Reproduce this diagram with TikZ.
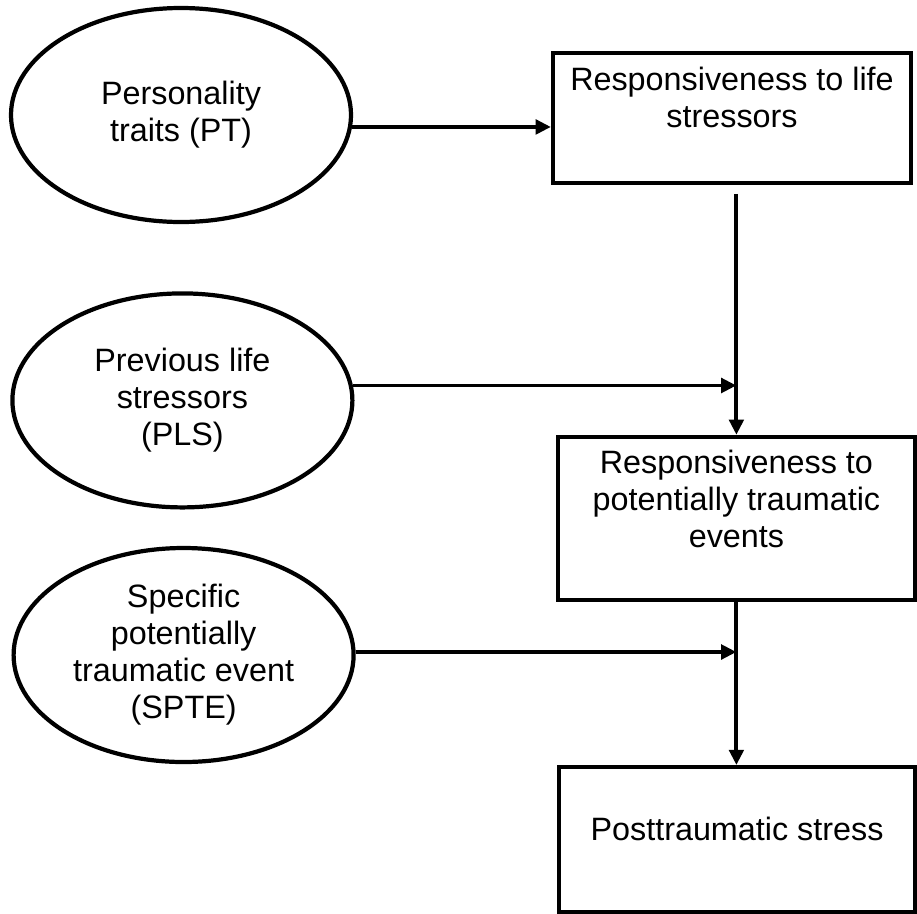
\documentclass[tikz,border=0pt]{standalone}
\usepackage{fontspec}
\setsansfont{Liberation Sans}
\usepackage{tikz}
\usetikzlibrary{arrows.meta,positioning,shapes.geometric,calc}
\newcommand{\diafont}{\fontsize{23}{26.3}\selectfont\sffamily}

\begin{document}
\begin{tikzpicture}[
    >={Triangle[length=0.38cm, width=0.36cm]},
    trait/.style={ellipse, draw=black, line width=3pt, fill=white,
        minimum width=8.5cm, minimum height=5.35cm, inner sep=0pt,
        align=center, font=\diafont},
    resbox/.style={draw=black, line width=3pt, fill=white,
        minimum width=8.9cm, inner sep=0pt},
    boxtxt/.style={align=center, font=\diafont, inner sep=0pt},
    arrw/.style={->, black, line width=2.8pt},
]

\useasboundingbox[fill=white] (0, 0) rectangle (22.925, -22.825);

% === ANTECEDENTS (ellipses) ===
\node[trait] (pt)   at (4.525, -2.875) {Personality\\traits (PT)};
\node[trait] (pls)  at (4.56, -10.01)  {Previous life\\stressors\\(PLS)};
\node[trait] (spte) at (4.59, -16.375) {Specific\\potentially\\traumatic event\\(SPTE)};

% === RESPONSES (boxes) ===
\node[resbox, minimum width=8.95cm, minimum height=3.25cm] (lrs) at (18.3, -2.95) {};
\node[boxtxt, anchor=base] (lrstxt) at ([yshift=-1.925cm]lrs.north)
    {Responsiveness to life\\stressors};

\node[resbox, minimum width=8.925cm, minimum height=4.075cm] (rpte) at (18.41, -12.96) {};
\node[boxtxt, anchor=base] (rptetxt) at ([yshift=-2.825cm]rpte.north)
    {Responsiveness to\\potentially traumatic\\events};

\node[resbox, minimum height=3.625cm] (pts) at (18.425, -20.99) {};
\node[boxtxt, anchor=base] (ptstxt) at ([yshift=-1.875cm]pts.north)
    {Posttraumatic stress};

% === ARROWS ===
\draw[arrw] (pt.-4) -- (pt.-4 -| lrs.west);
\draw[arrw, shorten <=0.22cm] (lrs.south -| rpte.north) -- (rpte.north);
\draw[arrw] (pls.5) -- (pls.5 -| rpte.north);
\draw[arrw] (rpte.south) -- (rpte.south |- pts.north);
\draw[arrw] (spte.1) -- (spte.1 -| rpte.south);

\end{tikzpicture}
\end{document}
